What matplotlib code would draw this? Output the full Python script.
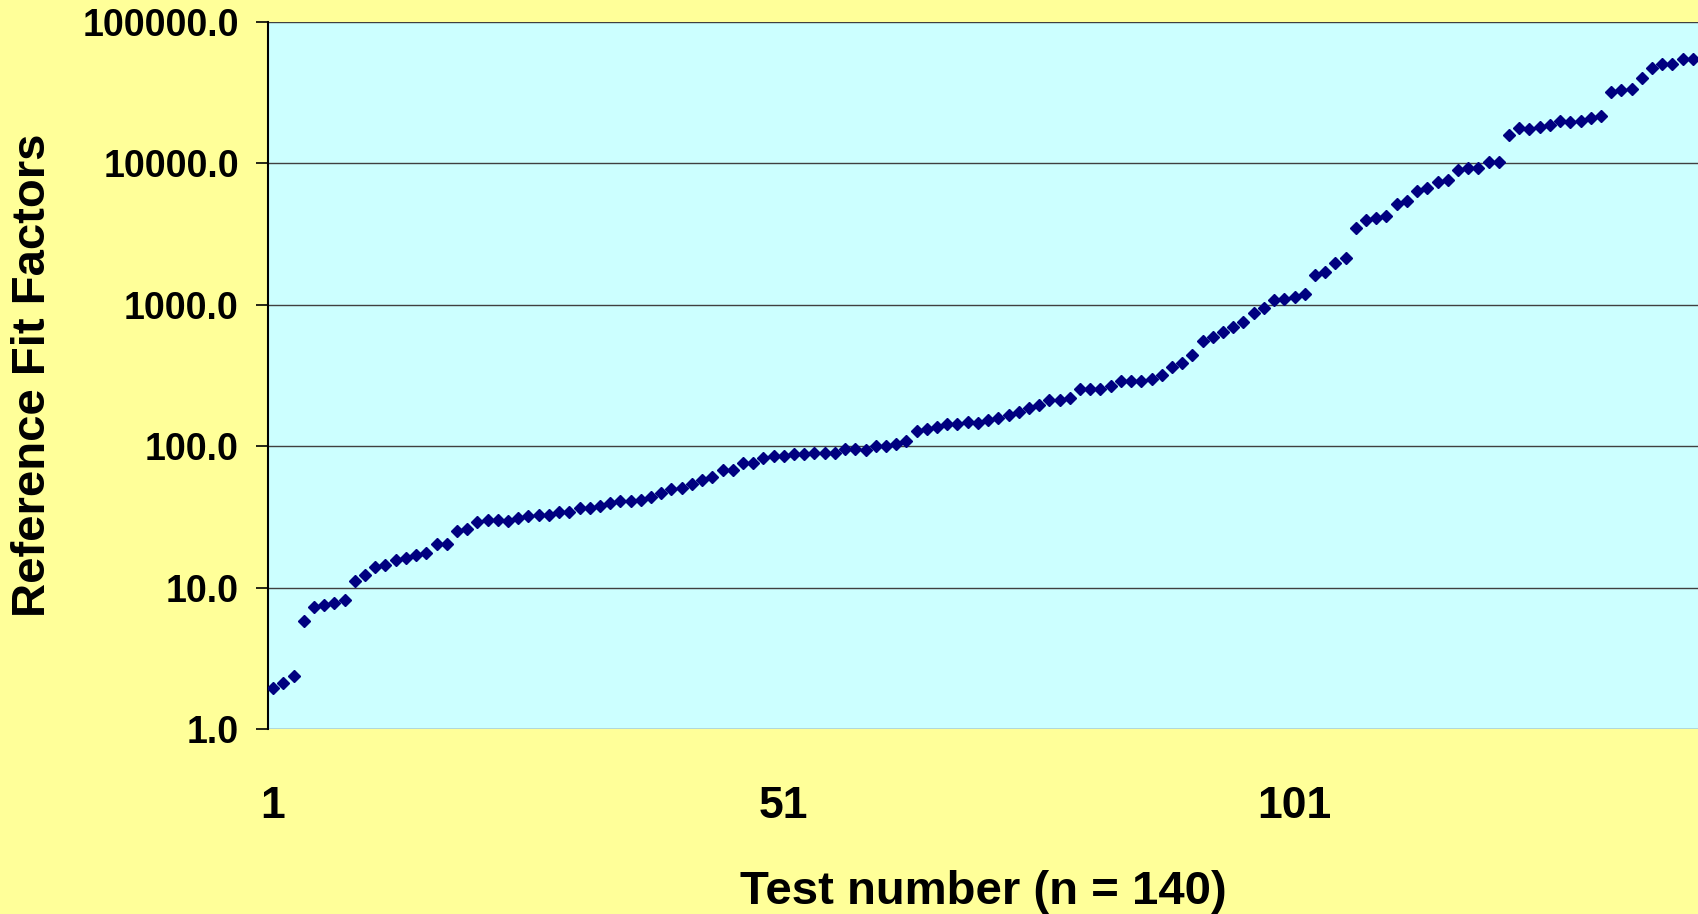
import matplotlib
matplotlib.use("Agg")
import matplotlib.pyplot as plt
import numpy as np

# reference fit factors, sorted, one per test
fit_factors = [
    1.96, 2.13, 2.37, 5.83, 7.33, 7.57, 7.78, 8.2, 11.2, 12.2,
    14.0, 14.5, 15.6, 16.1, 17.0, 17.5, 20.2, 20.3, 25.3, 26.0,
    29.0, 29.9, 29.9, 29.7, 30.9, 31.9, 32.6, 32.6, 34.4, 34.4,
    36.7, 36.7, 37.8, 39.7, 41.0, 40.8, 41.9, 43.5, 46.9, 49.8,
    50.6, 53.7, 57.4, 60.6, 67.9, 67.6, 75.7, 75.5, 82.1, 85.2,
    85.2, 87.6, 87.6, 90.0, 89.6, 89.6, 95.0, 95.0, 94.0, 100.9,
    101, 103, 109, 128, 133, 137, 144, 144, 148, 147,
    153, 157, 165, 175, 185, 197, 213, 213, 219, 253,
    253, 252, 268, 291, 291, 291, 300, 317, 365, 385,
    444, 557, 589, 639, 693, 756, 879, 944, 1080, 1100,
    1140, 1199, 1633, 1706, 1976, 2154, 3475, 4000, 4130, 4226,
    5139, 5449, 6400, 6680, 7400, 7610, 9000, 9300, 9280, 10150,
    10150, 15810, 17720, 17500, 18180, 18690, 19850, 19730, 19850, 20950,
    21530, 31990, 32880, 33760, 39970, 47520, 50220, 50220, 54730, 54480,
]
test_numbers = list(range(1, len(fit_factors) + 1))
x_ticks = [1, 51, 101]
y_ticks = [1, 10, 100, 1000, 10000, 100000]

plt.rcParams['font.family'] = ['Liberation Sans', 'DejaVu Sans']
plt.rcParams['font.weight'] = 'bold'

fig = plt.figure(figsize=(16.98, 9.14), dpi=100, facecolor='#FFFF99')
ax = fig.add_axes([268 / 1698, 1 - 729 / 914, 1 - 268 / 1698, (729 - 22) / 914])
ax.set_facecolor('#CCFFFF')

ax.plot(test_numbers, fit_factors, linestyle='none', marker='D',
        markersize=6.0, color='#000080', zorder=3)

ax.set_yscale('log')
ax.set_ylim(1, 100000)
ax.set_xlim(0.5, len(fit_factors) + 0.5)
ax.set_yticks(y_ticks)
ax.set_yticklabels(['%.1f' % v for v in y_ticks])
ax.minorticks_off()
ax.set_xticks(x_ticks)
ax.set_xticklabels([str(v) for v in x_ticks])

ax.grid(axis='y', color='#404040', linewidth=1.0)
ax.set_axisbelow(True)
for side in ['top', 'right', 'bottom']:
    ax.spines[side].set_visible(False)
ax.spines['left'].set_linewidth(1.5)
ax.spines['left'].set_color('black')

ax.tick_params(axis='y', direction='out', length=9, width=1.2, pad=12,
               labelsize=27, color='black')
ax.tick_params(axis='x', length=0, pad=41, labelsize=32)

ax.set_xlabel('Test number (n = 140)', fontsize=34, fontweight='bold', labelpad=31)
ax.set_ylabel('Reference Fit Factors', fontsize=34, fontweight='bold', labelpad=20)

fig.savefig('out.png', dpi=100, facecolor=fig.get_facecolor())
